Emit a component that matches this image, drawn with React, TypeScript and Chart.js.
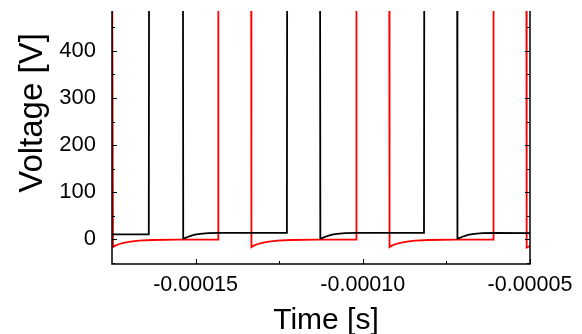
import { useEffect, useRef } from 'react';
import { Chart, registerables } from 'chart.js';

Chart.register(...registerables);

// Time in seconds, voltage in volts
const blackTime = [
  -175e-6, -164.0e-6, -163.9e-6, -153.8e-6, -153.7e-6, -153.0e-6, -152.2e-6, -151.2e-6, -150.2e-6, -148.7e-6, -146.2e-6, -142.7e-6,
  -122.7e-6, -122.6e-6, -112.8e-6, -112.7e-6, -112.0e-6, -111.2e-6, -110.2e-6, -109.2e-6, -107.7e-6, -105.2e-6, -101.7e-6,
  -81.7e-6, -81.6e-6, -71.8e-6, -71.7e-6, -71.0e-6, -70.2e-6, -69.2e-6, -68.2e-6, -66.7e-6, -64.2e-6, -60.7e-6,
  -50e-6,
];
const blackVolt = [
  10, 10, 700, 700, 1, 2.5, 5, 7.5, 9.5, 11, 12.5, 13,
  13, 700, 700, 1, 2.5, 5, 7.5, 9.5, 11, 12.5, 13,
  13, 700, 700, 1, 2.5, 5, 7.5, 9.5, 11, 12.5, 13,
  12.5,
];

const redTime = [
  -175e-6, -174.8e-6, -174.7e-6, -174.0e-6, -173.0e-6, -171.5e-6, -169.5e-6, -167.0e-6, -163.0e-6, -155.0e-6,
  -143.3e-6, -143.2e-6, -133.4e-6, -133.3e-6, -132.6e-6, -131.6e-6, -130.1e-6, -128.1e-6, -125.6e-6, -121.6e-6, -113.6e-6,
  -102.0e-6, -101.9e-6, -92.1e-6, -92.0e-6, -91.3e-6, -90.3e-6, -88.8e-6, -86.8e-6, -84.3e-6, -80.3e-6, -72.3e-6,
  -61.0e-6, -60.9e-6, -51.1e-6, -51.0e-6, -50.0e-6,
];
const redVolt = [
  700, 700, -17, -14, -11, -8, -5.5, -3.5, -2, -1,
  -1, 700, 700, -17, -14, -11, -8, -5.5, -3.5, -2, -1,
  -1, 700, 700, -17, -14, -11, -8, -5.5, -3.5, -2, -1,
  -1, 700, 700, -18, -15,
];

const xTickValues = [-0.00015, -0.0001, -0.00005];
const xTickLabels = ['-0.00015', '-0.00010', '-0.00005'];
const xMinorValues = [-0.000125, -0.000075];
const yTickValues = [0, 100, 200, 300, 400];
const yTickLabels = ['0', '100', '200', '300', '400'];
const yMinorValues = [-50, 50, 150, 250, 350, 450];

const xTitle = 'Time [s]';
const yTitle = 'Voltage [V]';

const X_MIN = -0.000175;
const X_MAX = -0.00005;
const Y_MIN = -53;
const Y_MAX = 485;

const toPoints = (t: number[], v: number[]) => t.map((x, i) => ({ x, y: v[i] }));

const FONT = "'Liberation Sans', Arial, sans-serif";

const originAxes = {
  id: 'originAxes',
  afterDatasetsDraw(chart: any) {
    const { ctx, chartArea, scales } = chart;
    const { left, right, top, bottom } = chartArea;
    const x = scales.x;
    const y = scales.y;
    ctx.save();
    ctx.strokeStyle = '#000';
    ctx.lineWidth = 1.5;
    ctx.beginPath();
    ctx.moveTo(left, top);
    ctx.lineTo(left, bottom);
    ctx.lineTo(right, bottom);
    ctx.lineTo(right, top);
    ctx.stroke();
    ctx.lineWidth = 1;
    ctx.beginPath();
    const major = 5;
    const minor = 3;
    xTickValues.forEach((v) => {
      const p = Math.round(x.getPixelForValue(v)) + 0.5;
      ctx.moveTo(p, bottom);
      ctx.lineTo(p, bottom - major);
    });
    xMinorValues.forEach((v) => {
      const p = Math.round(x.getPixelForValue(v)) + 0.5;
      ctx.moveTo(p, bottom);
      ctx.lineTo(p, bottom - minor);
    });
    yTickValues.forEach((v) => {
      const p = Math.round(y.getPixelForValue(v)) + 0.5;
      ctx.moveTo(left, p);
      ctx.lineTo(left + major, p);
      ctx.moveTo(right, p);
      ctx.lineTo(right - major, p);
    });
    yMinorValues.forEach((v) => {
      const p = Math.round(y.getPixelForValue(v)) + 0.5;
      ctx.moveTo(left, p);
      ctx.lineTo(left + minor, p);
      ctx.moveTo(right, p);
      ctx.lineTo(right - minor, p);
    });
    ctx.stroke();

    // axis titles
    ctx.fillStyle = '#000';
    ctx.textAlign = 'center';
    ctx.textBaseline = 'alphabetic';
    ctx.font = `30px ${FONT}`;
    ctx.fillText(xTitle, (left + right) / 2 + 5, 329);
    ctx.save();
    ctx.translate(42, 113);
    ctx.rotate(-Math.PI / 2);
    ctx.font = `33px ${FONT}`;
    ctx.fillText(yTitle, 0, 0);
    ctx.restore();
    ctx.restore();
  },
};

export default function App() {
  const ref = useRef<HTMLCanvasElement | null>(null);

  useEffect(() => {
    document.body.style.margin = '0';
    const canvas = ref.current;
    if (!canvas) return;
    Chart.defaults.font.family = FONT;
    Chart.defaults.color = '#000';
    const chart = new Chart(canvas, {
      type: 'line',
      data: {
        datasets: [
          {
            label: 'black',
            data: toPoints(blackTime, blackVolt),
            borderColor: '#000000',
            borderWidth: 1.8,
            pointRadius: 0,
            tension: 0,
            fill: false,
          },
          {
            label: 'red',
            data: toPoints(redTime, redVolt),
            borderColor: '#ff0000',
            borderWidth: 1.8,
            pointRadius: 0,
            tension: 0,
            fill: false,
          },
        ],
      },
      options: {
        responsive: false,
        animation: false,
        events: [],
        layout: { padding: { top: 11, right: 52, bottom: 0, left: 0 } },
        plugins: {
          legend: { display: false },
          tooltip: { enabled: false },
        },
        scales: {
          x: {
            type: 'linear',
            min: X_MIN,
            max: X_MAX,
            grid: { display: false },
            border: { display: false },
            afterBuildTicks: (scale: any) => {
              scale.ticks = xTickValues.map((v) => ({ value: v }));
            },
            afterFit: (scale: any) => {
              scale.height = 70;
              scale.paddingLeft = 0;
              scale.paddingRight = 0;
            },
            ticks: {
              autoSkip: false,
              maxRotation: 0,
              padding: 0,
              font: { size: 21.5 },
              color: '#000',
              callback: (_v: any, i: number) => xTickLabels[i],
            },
          },
          y: {
            type: 'linear',
            min: Y_MIN,
            max: Y_MAX,
            grid: { display: false },
            border: { display: false },
            afterBuildTicks: (scale: any) => {
              scale.ticks = yTickValues.map((v) => ({ value: v }));
            },
            afterFit: (scale: any) => {
              scale.width = 112;
              scale.paddingTop = 0;
              scale.paddingBottom = 0;
            },
            ticks: {
              autoSkip: false,
              padding: 8,
              font: { size: 22 },
              color: '#000',
              callback: (_v: any, i: number) => yTickLabels[i],
            },
          },
        },
      },
      plugins: [originAxes],
    });
    return () => chart.destroy();
  }, []);

  return <canvas ref={ref} width={582} height={334} style={{ display: 'block' }} />;
}
